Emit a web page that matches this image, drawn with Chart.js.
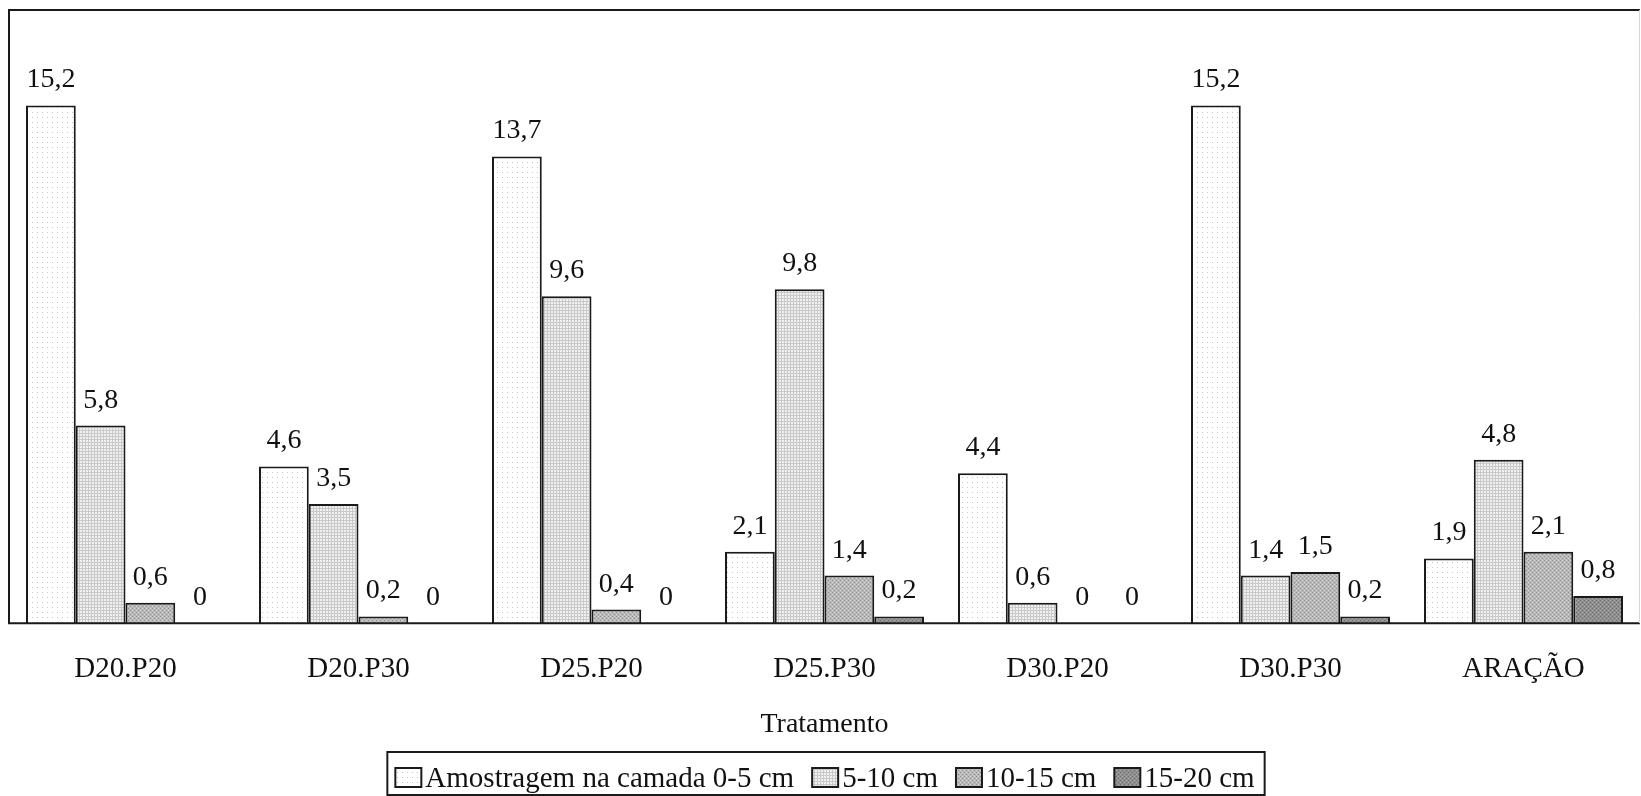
<!DOCTYPE html>
<html lang="pt">
<head>
<meta charset="utf-8">
<title>Amostragem por camada e tratamento</title>
<script src="https://cdn.jsdelivr.net/npm/chart.js@4.4.1/dist/chart.umd.min.js"></script>
<style>
  html, body { margin: 0; padding: 0; background: #ffffff; overflow: hidden; }
  #wrap { width: 1641px; height: 796px; position: relative; }
</style>
</head>
<body>
<div id="wrap"><canvas id="chart" width="1641" height="796"></canvas></div>
<script>
// Treatments (x categories)
const categories = ['D20.P20', 'D20.P30', 'D25.P20', 'D25.P30', 'D30.P20', 'D30.P30', 'ARAÇÃO'];

// Sampled layers (series names)
const seriesNames = ['Amostragem na camada 0-5 cm', '5-10 cm', '10-15 cm', '15-20 cm'];

// Values per layer, one per treatment
const layer0to5   = [15.2, 4.6, 13.7, 2.1, 4.4, 15.2, 1.9];
const layer5to10  = [5.8, 3.5, 9.6, 9.8, 0.6, 1.4, 4.8];
const layer10to15 = [0.6, 0.2, 0.4, 1.4, 0, 1.5, 2.1];
const layer15to20 = [0, 0, 0, 0.2, 0, 0.2, 0.8];

const axisTitle = 'Tratamento';
const yMax = 18;

const SERIF = '"Liberation Serif", "Times New Roman", serif';

// Small tiled fills that imitate the printed dot/grid screens
function makePattern(size, bg, draw) {
  const c = document.createElement('canvas');
  c.width = size; c.height = size;
  const g = c.getContext('2d');
  g.fillStyle = bg;
  g.fillRect(0, 0, size, size);
  draw(g);
  return g.createPattern(c, 'repeat');
}

const fillSparseDots = makePattern(5, '#ffffff', g => {
  g.fillStyle = '#c4c4c4';
  g.fillRect(2, 2, 1, 1);
});
const fillFineGrid = makePattern(3, '#f0f0f0', g => {
  g.fillStyle = '#c9c9c9';
  g.fillRect(0, 1, 3, 1);
  g.fillRect(1, 0, 1, 3);
});
const fillMidDots = makePattern(4, '#b9b9b9', g => {
  g.fillStyle = '#8e8e8e';
  g.fillRect(0, 0, 1, 1);
  g.fillRect(2, 2, 1, 1);
  g.fillStyle = '#d4d4d4';
  g.fillRect(2, 0, 1, 1);
  g.fillRect(0, 2, 1, 1);
});
const fillDarkDots = makePattern(4, '#8f8f8f', g => {
  g.fillStyle = '#6c6c6c';
  g.fillRect(0, 0, 1, 1);
  g.fillRect(2, 2, 1, 1);
  g.fillStyle = '#a8a8a8';
  g.fillRect(2, 0, 1, 1);
  g.fillRect(0, 2, 1, 1);
});

function fmt(v) {
  return String(v).replace('.', ',');
}

// Frame around the plot area (top, left, baseline; faint right edge)
const plotFrame = {
  id: 'plotFrame',
  afterDatasetsDraw(chart) {
    const { ctx, chartArea: a } = chart;
    ctx.save();
    ctx.strokeStyle = '#1a1a1a';
    ctx.lineWidth = 2;
    ctx.beginPath();
    ctx.moveTo(a.right, a.top);
    ctx.lineTo(a.left, a.top);
    ctx.lineTo(a.left, a.bottom);
    ctx.lineTo(a.right, a.bottom);
    ctx.stroke();
    ctx.strokeStyle = '#d8d8d8';
    ctx.lineWidth = 1;
    ctx.beginPath();
    ctx.moveTo(a.right - 0.5, a.top);
    ctx.lineTo(a.right - 0.5, a.bottom);
    ctx.stroke();
    ctx.restore();
  }
};

// Value printed above every bar
const valueLabels = {
  id: 'valueLabels',
  afterDatasetsDraw(chart) {
    const { ctx } = chart;
    ctx.save();
    ctx.font = '28px ' + SERIF;
    ctx.fillStyle = '#111111';
    ctx.textAlign = 'center';
    ctx.textBaseline = 'alphabetic';
    chart.data.datasets.forEach((ds, di) => {
      const meta = chart.getDatasetMeta(di);
      meta.data.forEach((bar, i) => {
        ctx.fillText(fmt(ds.data[i]), bar.x, bar.y - 18);
      });
    });
    ctx.restore();
  }
};

// Boxed legend row under the axis title: swatch, name, swatch, name...
const boxedLegend = {
  id: 'boxedLegend',
  afterDraw(chart) {
    const { ctx, chartArea: a } = chart;
    const fontSize = 29, boxW = 26, boxH = 19, gapText = 4, gapItem = 18, pad = 8;
    const baseline = 787;
    ctx.save();
    ctx.font = fontSize + 'px ' + SERIF;
    const items = chart.data.datasets.map(ds => ({
      ds, w: ctx.measureText(ds.label).width
    }));
    const inner = items.reduce((s, it) => s + boxW + gapText + it.w, 0) + gapItem * (items.length - 1);
    const centerX = (a.left + a.right) / 2 + 1.5;
    const left = centerX - (inner + 2 * pad + 2) / 2;
    const right = left + inner + 2 * pad + 2;

    ctx.strokeStyle = '#1a1a1a';
    ctx.lineWidth = 2;
    ctx.strokeRect(left, 752, right - left, chart.height - 1 - 752);

    let x = left + pad;
    ctx.textAlign = 'left';
    ctx.textBaseline = 'alphabetic';
    items.forEach(it => {
      ctx.fillStyle = it.ds.backgroundColor;
      ctx.fillRect(x, baseline - boxH, boxW, boxH);
      ctx.strokeStyle = '#1a1a1a';
      ctx.lineWidth = 2;
      ctx.strokeRect(x, baseline - boxH, boxW, boxH);
      ctx.fillStyle = '#111111';
      ctx.fillText(it.ds.label, x + boxW + gapText, baseline);
      x += boxW + gapText + it.w + gapItem;
    });
    ctx.restore();
  }
};

const fills = [fillSparseDots, fillFineGrid, fillMidDots, fillDarkDots];
const seriesData = [layer0to5, layer5to10, layer10to15, layer15to20];

new Chart(document.getElementById('chart'), {
  type: 'bar',
  data: {
    labels: categories,
    datasets: seriesData.map((vals, k) => ({
      label: seriesNames[k],
      data: vals,
      backgroundColor: fills[k],
      borderColor: '#1a1a1a',
      borderWidth: 2,
      borderSkipped: 'start',
      categoryPercentage: 0.854,
      barPercentage: 1.0
    }))
  },
  options: {
    responsive: false,
    animation: false,
    devicePixelRatio: 1,
    layout: { padding: { top: 10, left: 9, right: 1, bottom: 62 } },
    scales: {
      x: {
        grid: { display: false, drawTicks: false },
        border: { display: false },
        ticks: {
          padding: 29,
          color: '#111111',
          font: { family: SERIF, size: 29, lineHeight: 1.2 }
        },
        title: {
          display: true,
          text: axisTitle,
          color: '#111111',
          font: { family: SERIF, size: 28, lineHeight: '18px' },
          padding: { top: 0, bottom: 0 }
        }
      },
      y: {
        display: false,
        min: 0,
        max: yMax
      }
    },
    plugins: {
      legend: { display: false },
      tooltip: { enabled: false }
    }
  },
  plugins: [plotFrame, valueLabels, boxedLegend]
});
</script>
</body>
</html>
